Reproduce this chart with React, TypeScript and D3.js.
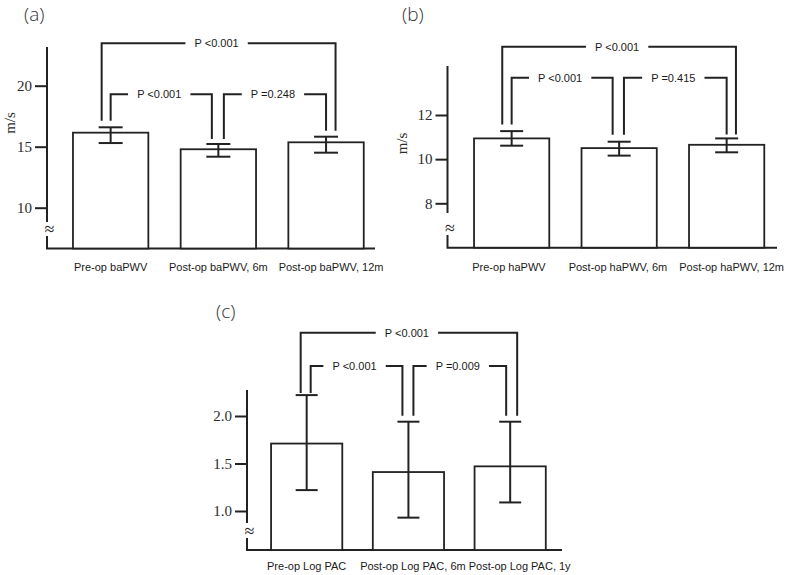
import React, { useEffect, useRef } from 'react'
import * as d3 from 'd3'

// (a) brachial-ankle PWV
const baCategories = ['Pre-op baPWV', 'Post-op baPWV, 6m', 'Post-op baPWV, 12m']
const baMeans = [16.15, 14.79, 15.36]
const baUpper = [16.59, 15.22, 15.82]
const baLower = [15.3, 14.18, 14.51]
const baTicks = [10, 15, 20]
const baPValues = ['P <0.001', 'P <0.001', 'P =0.248'] // outer, left, right

// (b) heart-ankle PWV
const haCategories = ['Pre-op haPWV', 'Post-op haPWV, 6m', 'Post-op haPWV, 12m']
const haMeans = [10.94, 10.5, 10.65]
const haUpper = [11.27, 10.79, 10.94]
const haLower = [10.61, 10.16, 10.31]
const haTicks = [8, 10, 12]
const haPValues = ['P <0.001', 'P <0.001', 'P =0.415']

// (c) log PAC
const pacCategories = ['Pre-op Log PAC', 'Post-op Log PAC, 6m', 'Post-op Log PAC, 1y']
const pacMeans = [1.71, 1.41, 1.47]
const pacUpper = [2.22, 1.94, 1.94]
const pacLower = [1.22, 0.93, 1.09]
const pacTicks = [1.0, 1.5, 2.0]
const pacPValues = ['P <0.001', 'P <0.001', 'P =0.009']

const INK = '#222'
const SANS = "'Liberation Sans', Arial, sans-serif"
const SERIF = "'Liberation Serif', 'Times New Roman', serif"

const ctx = document.createElement('canvas').getContext('2d')
const textWidth = (s, font) => {
  if (!ctx) return s.length * 5.5
  ctx.font = font
  return ctx.measureText(s).width
}

const layoutA = {
  tag: '(a)', tagX: 24, tagY: 21,
  xRange: [56.8, 379.9], yDomain: [10, 20], yRange: [207.7, 85.7],
  axisX: 47, axisTop: 47, breakTop: 222, breakY: 229, breakBottom: 236,
  baseline: 248.5, baseEnd: 375,
  yLabel: 'm/s', yLabelX: 10, yLabelY: 123,
  outerY: 43.3, innerY: 94.3, labelY: 270.5, labelShift: [0, 0, 5],
  capW: 24, gaps: [6.5, 5, 6], drops: [-9, 0, -6.5, 5.5, 0, 9.5],
  fmt: d3.format('d')
}

const layoutB = {
  tag: '(b)', tagX: 402, tagY: 21,
  xRange: [457.9, 780.4], yDomain: [8, 12], yRange: [203.3, 115],
  axisX: 447.5, axisTop: 66, breakTop: 213, breakY: 228, breakBottom: 235,
  baseline: 247.7, baseEnd: 777,
  yLabel: 'm/s', yLabelX: 402, yLabelY: 143.5,
  outerY: 46.7, innerY: 77.7, labelY: 270.5, labelShift: [-2.7, -1.2, 5],
  capW: 23, gaps: [6.5, 7, 4], drops: [-9.4, 0, -6.5, 4.8, 0, 9.3],
  fmt: d3.format('d')
}

const layoutC = {
  tag: '(c)', tagX: 216, tagY: 318,
  xRange: [255.8, 561.05], yDomain: [1, 2], yRange: [511, 416],
  axisX: 247, axisTop: 390, breakTop: 523, breakY: 531, breakBottom: 538,
  baseline: 550, baseEnd: 562,
  yLabel: null, yLabelX: 0, yLabelY: 0,
  outerY: 332.7, innerY: 366, labelY: 569.5, labelShift: [0, 4.5, 9.5],
  capW: 22, gaps: [2, 6, 6], drops: [-6, 4, -6, 5, -4, 7],
  fmt: d3.format('.1f')
}

const Panel = ({ categories, means, upper, lower, ticks, pValues, layout }) => {
  const axisRef = useRef(null)
  const L = layout

  const x = d3.scaleBand().domain(categories).range(L.xRange)
    .paddingInner(0.3).paddingOuter(0.15)
  const y = d3.scaleLinear().domain(L.yDomain).range(L.yRange)

  useEffect(() => {
    const g = d3.select(axisRef.current)
    g.call(d3.axisLeft(y).tickValues(ticks).tickSize(12).tickPadding(3).tickFormat(L.fmt))
    g.select('.domain').remove()
    g.selectAll('.tick line').attr('stroke', INK).attr('stroke-width', 2)
    g.selectAll('.tick text')
      .attr('font-family', SERIF).attr('font-size', 15).attr('fill', '#2b2b2b')
  }, [JSON.stringify(ticks), JSON.stringify(L.yDomain)])

  const cx = i => x(categories[i]) + x.bandwidth() / 2
  const dropEnd = i => y(upper[i]) - L.gaps[i]

  // outer, left, right brackets
  const brackets = [
    { a: 0, da: L.drops[0], b: 2, db: L.drops[5], level: L.outerY, label: pValues[0] },
    { a: 0, da: L.drops[1], b: 1, db: L.drops[2], level: L.innerY, label: pValues[1] },
    { a: 1, da: L.drops[3], b: 2, db: L.drops[4], level: L.innerY, label: pValues[2] }
  ]

  return (
    <g>
      <text x={L.tagX} y={L.tagY} fontFamily="'Open Sans', sans-serif" fontWeight={300}
        fontSize={19} fill="#333">{L.tag}</text>

      {/* broken y axis */}
      <line x1={L.axisX} x2={L.axisX} y1={L.axisTop} y2={L.breakTop} stroke={INK} strokeWidth={2} />
      <text x={L.axisX + 2.5} y={L.breakY} textAnchor="middle" dominantBaseline="central"
        fontFamily={SERIF} fontSize={18} fill={INK}>≈</text>
      <path d={`M${L.axisX},${L.breakBottom}V${L.baseline}H${L.baseEnd}`}
        fill="none" stroke={INK} strokeWidth={2} />
      <g ref={axisRef} transform={`translate(${L.axisX},0)`} />
      {L.yLabel && (
        <text transform={`translate(${L.yLabelX},${L.yLabelY}) rotate(-90)`} textAnchor="middle"
          dominantBaseline="central" fontFamily={SERIF} fontSize={15} fill="#2b2b2b">{L.yLabel}</text>
      )}

      {/* bars */}
      {categories.map((c, i) => (
        <rect key={c} x={x(c)} width={x.bandwidth()} y={y(means[i])}
          height={L.baseline - y(means[i])} fill="white" stroke={INK} strokeWidth={1.8} />
      ))}

      {/* error bars */}
      {categories.map((c, i) => (
        <g key={c} stroke={INK} strokeWidth={2}>
          <line x1={cx(i)} x2={cx(i)} y1={y(upper[i])} y2={y(lower[i])} />
          <line x1={cx(i) - L.capW / 2} x2={cx(i) + L.capW / 2} y1={y(upper[i])} y2={y(upper[i])} />
          <line x1={cx(i) - L.capW / 2} x2={cx(i) + L.capW / 2} y1={y(lower[i])} y2={y(lower[i])} />
        </g>
      ))}

      {/* significance brackets */}
      {brackets.map((br, k) => {
        const xa = cx(br.a) + br.da
        const xb = cx(br.b) + br.db
        const mid = (xa + xb) / 2 - 2
        const w = textWidth(br.label, `11px ${SANS}`)
        return (
          <g key={k}>
            <path d={`M${xa},${dropEnd(br.a)}V${br.level}H${xb}V${dropEnd(br.b)}`}
              fill="none" stroke={INK} strokeWidth={2} />
            <rect x={mid - w / 2 - 9} width={w + 18} y={br.level - 3} height={6} fill="white" />
            <text x={mid} y={br.level + 4} textAnchor="middle" fontFamily={SANS}
              fontSize={11} fill="#1a1a1a">{br.label}</text>
          </g>
        )
      })}

      {/* category labels */}
      {categories.map((c, i) => (
        <text key={c} x={cx(i) + L.labelShift[i]} y={L.labelY} textAnchor="middle"
          fontFamily={SANS} fontSize={11} fill="#1a1a1a">{c}</text>
      ))}
    </g>
  )
}

const App = () => (
  <svg width={787} height={575} style={{ position: 'absolute', left: 0, top: 0, background: 'white' }}>
    <Panel categories={baCategories} means={baMeans} upper={baUpper} lower={baLower}
      ticks={baTicks} pValues={baPValues} layout={layoutA} />
    <Panel categories={haCategories} means={haMeans} upper={haUpper} lower={haLower}
      ticks={haTicks} pValues={haPValues} layout={layoutB} />
    <Panel categories={pacCategories} means={pacMeans} upper={pacUpper} lower={pacLower}
      ticks={pacTicks} pValues={pacPValues} layout={layoutC} />
  </svg>
)

export default App
